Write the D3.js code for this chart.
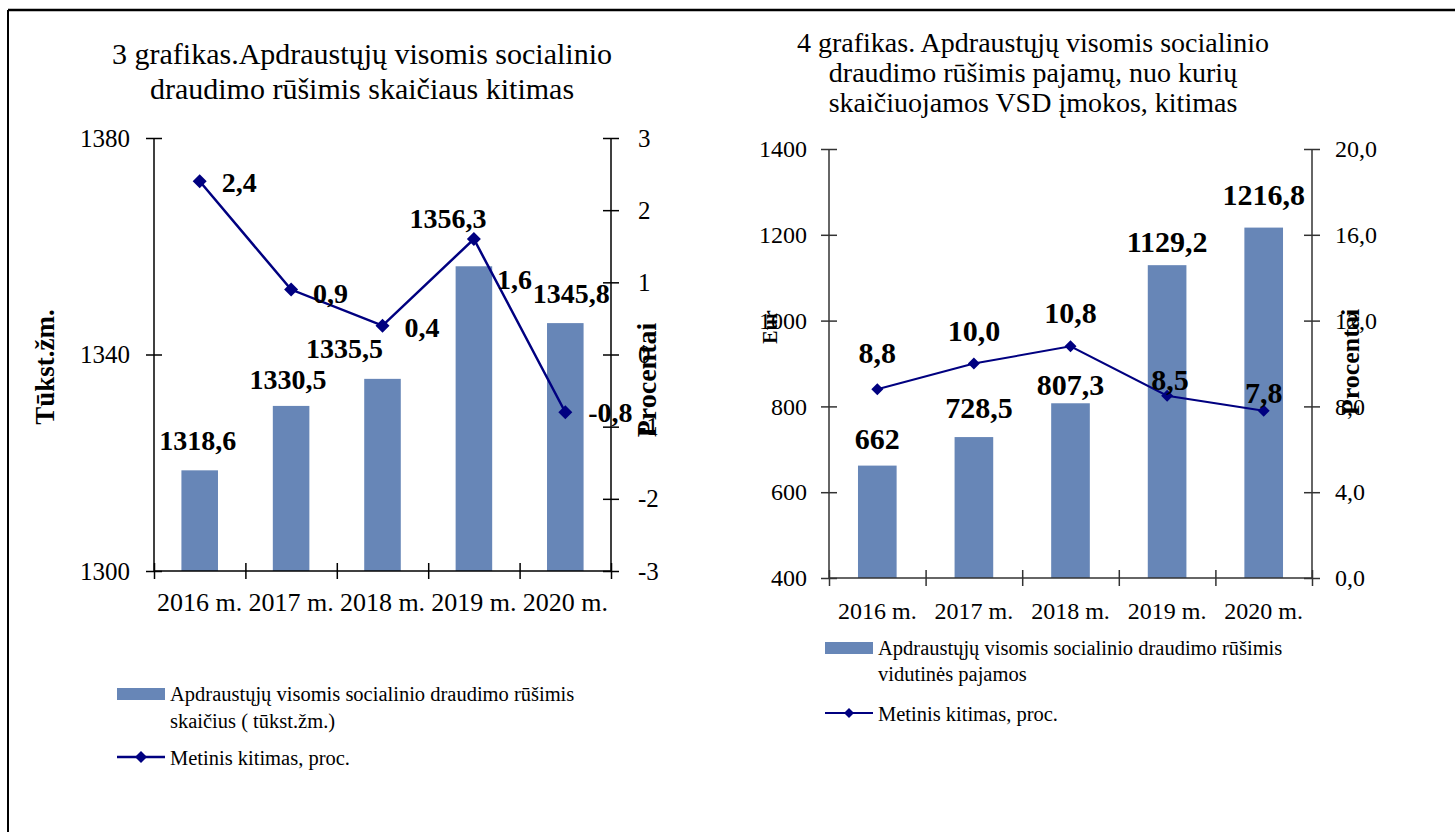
<!DOCTYPE html>
<html>
<head>
<meta charset="utf-8">
<script src="https://cdn.jsdelivr.net/npm/d3@7"></script>
<style>
  body { margin: 0; background: #fff; }
  text { font-family: "Liberation Serif", "Times New Roman", serif; fill: #000; }
</style>
</head>
<body>
<svg id="chart" width="1455" height="832"></svg>
<script>
// data
const years = ["2016 m.", "2017 m.", "2018 m.", "2019 m.", "2020 m."];
const insured = [1318.6, 1330.5, 1335.5, 1356.3, 1345.8];      // tūkst. žm.
const insuredChange = [2.4, 0.9, 0.4, 1.6, -0.8];               // proc.
const income = [662, 728.5, 807.3, 1129.2, 1216.8];             // Eur
const incomeChange = [8.8, 10.0, 10.8, 8.5, 7.8];               // proc.

const insuredTicks = [1300, 1340, 1380];
const insuredChangeTicks = [-3, -2, -1, 0, 1, 2, 3];
const incomeTicks = [400, 600, 800, 1000, 1200, 1400];
const incomeChangeTicks = [0, 4, 8, 12, 16, 20];

// label nudges (Excel labels were moved by hand), [dx, dy] in px
const insuredLabelNudge = [[-2, -20], [-3, -17], [-38, -21], [-26, -38], [6, -20]];
const insuredChangeNudge = [[22, 11], [22, 13], [22, 11], [23, 50], [23, 10]];
const incomeLabelNudge = [[0, -17], [5, -19], [0, -8], [0, -13], [0, -23]];
const incomeChangeNudge = [[0, -26], [0, -23], [0, -23], [3, -6], [0, -8]];

const barColor = "#6786b7";
const lineColor = "#000080";

const comma = s => String(s).replace(".", ",");
const f1 = v => v.toFixed(1).replace(".", ",");

const svg = d3.select("#chart");

// outer frame (only top and left edges show)
svg.append("line").attr("x1", 8).attr("y1", 10).attr("x2", 1455).attr("y2", 10)
  .attr("stroke", "#000").attr("stroke-width", 2.5);
svg.append("line").attr("x1", 8).attr("y1", 10).attr("x2", 8).attr("y2", 832)
  .attr("stroke", "#000").attr("stroke-width", 2);

function txt(g, x, y, s, size, opts = {}) {
  return g.append("text")
    .attr("x", x).attr("y", y)
    .attr("text-anchor", opts.anchor || "middle")
    .attr("font-size", size)
    .attr("font-weight", opts.bold ? "bold" : null)
    .text(s);
}

function diamond(g, x, y, r) {
  g.append("path")
    .attr("d", `M${x},${y - r}L${x + r},${y}L${x},${y + r}L${x - r},${y}Z`)
    .attr("fill", lineColor);
}

// cross ticks: d3 only draws one side, so stretch the line to the other
function crossTicks(g, dir, len, color, width) {
  g.select(".domain").attr("stroke", color).attr("stroke-width", width);
  g.selectAll(".tick line").attr("stroke", color).attr("stroke-width", width);
  if (dir === "left") g.selectAll(".tick line").attr("x1", len);
  if (dir === "right") g.selectAll(".tick line").attr("x1", -len);
  if (dir === "bottom") g.selectAll(".tick line").attr("y1", -len);
}

function drawChart(cfg) {
  const g = svg.append("g");
  const [x0, x1] = cfg.xRange;
  const [yb, yt] = cfg.yRange;

  const x = d3.scaleBand().domain(years).range([x0, x1])
    .paddingInner(0.6).paddingOuter(0.3);
  const xEdge = d3.scaleLinear().domain([0, years.length]).range([x0, x1]);
  const y = d3.scaleLinear().domain(d3.extent(cfg.leftTicks)).range([yb, yt]);
  const y2 = d3.scaleLinear().domain(d3.extent(cfg.rightTicks)).range([yb, yt]);

  // bars
  g.selectAll(".bar").data(cfg.bars).enter().append("rect")
    .attr("x", (d, i) => x(years[i]))
    .attr("y", d => y(d))
    .attr("width", x.bandwidth())
    .attr("height", d => yb - y(d))
    .attr("fill", barColor);

  // axes
  const ax = g.append("g").attr("transform", `translate(${x0},0)`)
    .call(d3.axisLeft(y).tickValues(cfg.leftTicks).tickSize(8).tickPadding(cfg.tickPad)
      .tickFormat(d => String(d)))
    .call(a => a.select(".domain").attr("d", `M0,${yb}V${yt}`));
  crossTicks(ax, "left", 8, cfg.axisColor, 1.5);
  ax.selectAll(".tick text").attr("font-size", cfg.tickSize).attr("font-family", null);

  const ax2 = g.append("g").attr("transform", `translate(${x1},0)`)
    .call(d3.axisRight(y2).tickValues(cfg.rightTicks).tickSize(8).tickPadding(cfg.tickPad2)
      .tickFormat(cfg.rightFormat))
    .call(a => a.select(".domain").attr("d", `M0,${yb}V${yt}`));
  crossTicks(ax2, "right", 8, cfg.axisColor, 1.5);
  ax2.selectAll(".tick text").attr("font-size", cfg.tickSize).attr("font-family", null);

  const axb = g.append("g").attr("transform", `translate(0,${yb})`)
    .call(d3.axisBottom(xEdge).tickValues(d3.range(years.length + 1)).tickSize(8).tickFormat(""));
  crossTicks(axb, "bottom", 8, cfg.axisColor, 1.5);
  axb.select(".domain").attr("d", `M${x0},0H${x1}`);

  const axc = g.append("g").attr("transform", `translate(0,${yb})`)
    .call(d3.axisBottom(x).tickSize(0).tickPadding(cfg.catPad));
  axc.select(".domain").remove();
  axc.selectAll(".tick text").attr("font-size", cfg.catSize).attr("font-family", null);

  // line
  const pts = cfg.line.map((v, i) => [x(years[i]) + x.bandwidth() / 2, y2(v)]);
  g.append("path").attr("d", d3.line()(pts))
    .attr("fill", "none").attr("stroke", lineColor).attr("stroke-width", cfg.lineWidth);
  pts.forEach(p => diamond(g, p[0], p[1], cfg.markR));

  // data labels
  cfg.bars.forEach((v, i) => {
    const n = cfg.barNudge[i];
    txt(g, x(years[i]) + x.bandwidth() / 2 + n[0], y(v) + n[1], comma(v), cfg.labelSize, { bold: true });
  });
  cfg.line.forEach((v, i) => {
    const n = cfg.lineNudge[i];
    txt(g, pts[i][0] + n[0], pts[i][1] + n[1], f1(v), cfg.labelSize,
      { bold: true, anchor: cfg.lineAnchor });
  });

  // axis titles
  cfg.axisTitles.forEach(t => {
    txt(g, 0, 0, t.text, t.size, { bold: true })
      .attr("transform", `translate(${t.x},${t.y}) rotate(-90)`)
      .attr("dy", "0.35em");
  });

  // title
  cfg.title.forEach((s, i) => txt(g, cfg.titleX, cfg.titleY + i * cfg.titleStep, s, cfg.titleSize));

  // legend
  const L = cfg.legend;
  g.append("rect").attr("x", L.x).attr("y", L.barY).attr("width", 48).attr("height", 12)
    .attr("fill", barColor);
  L.barText.forEach((s, i) => txt(g, L.x + 53, L.barY + 13 + i * L.step, s, L.size, { anchor: "start" }));
  g.append("line").attr("x1", L.x).attr("x2", L.x + 48).attr("y1", L.lineY).attr("y2", L.lineY)
    .attr("stroke", lineColor).attr("stroke-width", cfg.lineWidth);
  diamond(g, L.x + 24, L.lineY, cfg.markR - 1);
  txt(g, L.x + 53, L.lineY + 8, L.lineText, L.size, { anchor: "start" });
}

drawChart({
  xRange: [154, 611], yRange: [571, 138],
  bars: insured, line: insuredChange,
  leftTicks: insuredTicks, rightTicks: insuredChangeTicks,
  rightFormat: d => String(d),
  axisColor: "#000", tickSize: 25, tickPad: 16, tickPad2: 19,
  catSize: 26, catPad: 22,
  lineWidth: 2.5, markR: 7,
  labelSize: 28, barNudge: insuredLabelNudge, lineNudge: insuredChangeNudge, lineAnchor: "start",
  axisTitles: [
    { text: "Tūkst.žm.", x: 45, y: 367, size: 27 },
    { text: "Procentai", x: 646, y: 380, size: 28 }
  ],
  title: ["3 grafikas.Apdraustųjų visomis socialinio", "draudimo rūšimis skaičiaus kitimas"],
  titleX: 362, titleY: 64, titleStep: 35, titleSize: 30,
  legend: {
    x: 117, barY: 688, step: 27, size: 20.5, lineY: 757,
    barText: ["Apdraustųjų visomis socialinio draudimo rūšimis", "skaičius ( tūkst.žm.)"],
    lineText: "Metinis kitimas, proc."
  }
});

drawChart({
  xRange: [829, 1312], yRange: [578, 149],
  bars: income, line: incomeChange,
  leftTicks: incomeTicks, rightTicks: incomeChangeTicks,
  rightFormat: f1,
  axisColor: "#333", tickSize: 24, tickPad: 14, tickPad2: 15,
  catSize: 24, catPad: 24,
  lineWidth: 2, markR: 6,
  labelSize: 30, barNudge: incomeLabelNudge, lineNudge: incomeChangeNudge, lineAnchor: "middle",
  axisTitles: [
    { text: "Eur", x: 770, y: 327, size: 20 },
    { text: "Procentai", x: 1350, y: 362, size: 26 }
  ],
  title: ["4 grafikas. Apdraustųjų visomis socialinio", "draudimo rūšimis pajamų, nuo kurių",
    "skaičiuojamos VSD įmokos, kitimas"],
  titleX: 1033, titleY: 52, titleStep: 30, titleSize: 28,
  legend: {
    x: 825, barY: 642, step: 26, size: 20.5, lineY: 713,
    barText: ["Apdraustųjų visomis socialinio draudimo rūšimis", "vidutinės pajamos"],
    lineText: "Metinis kitimas, proc."
  }
});
</script>
</body>
</html>
